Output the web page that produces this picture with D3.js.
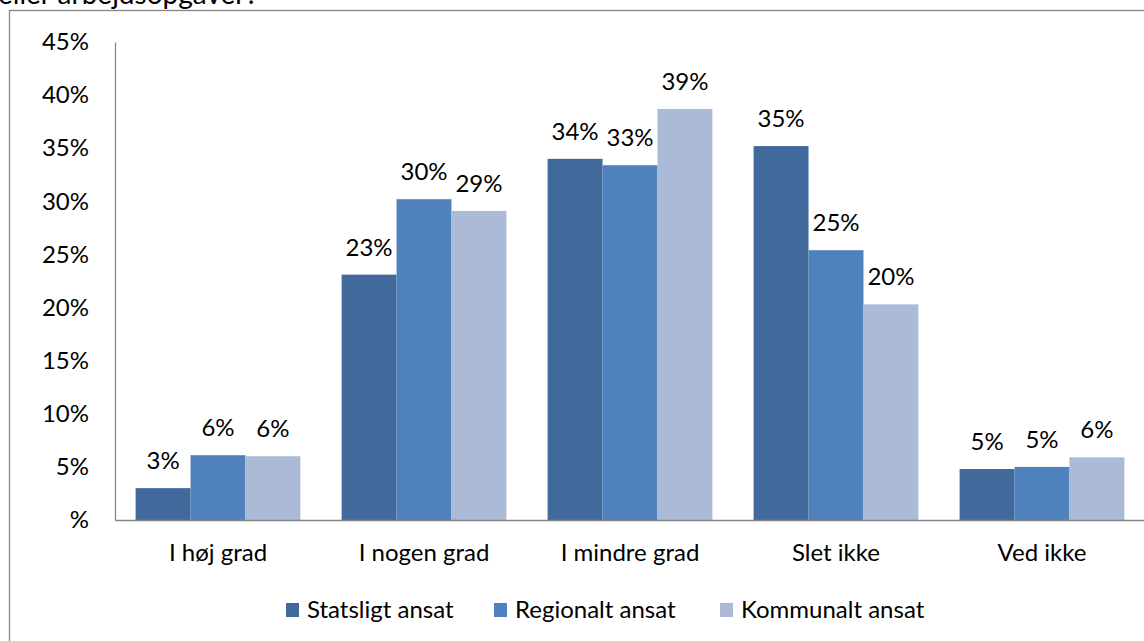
<!DOCTYPE html>
<html>
<head>
<meta charset="utf-8">
<script src="https://cdn.jsdelivr.net/npm/d3@7"></script>
<style>
  body { margin: 0; background: #fff; }
  text { font-family: Lato, "Open Sans", sans-serif; fill: #000; }
</style>
</head>
<body>
<div id="container"></div>
<script>
// data
const categories = ["I høj grad", "I nogen grad", "I mindre grad", "Slet ikke", "Ved ikke"];
const seriesNames = ["Statsligt ansat", "Regionalt ansat", "Kommunalt ansat"];
const statsligt = [3.0, 23.1, 34.0, 35.2, 4.8];
const regionalt = [6.1, 30.2, 33.4, 25.4, 5.0];
const kommunalt = [6.0, 29.1, 38.7, 20.3, 5.9];
const yTicks = [0, 5, 10, 15, 20, 25, 30, 35, 40, 45];
const colors = ["#41699b", "#4f81bd", "#aabad7"];

const series = [statsligt, regionalt, kommunalt];

// size
const w = 1144, h = 641;
const padL = 115, padR = 1145, padT = 42, padB = 520;
const fs = "24px";

const svg = d3.select("#container").append("svg")
  .attr("width", w).attr("height", h);

// cut-off title text and outer frame
svg.append("text").attr("x", -2).attr("y", 4)
  .style("font-size", "28px").text("eller arbejdsopgaver?");
svg.append("rect").attr("x", 9.5).attr("y", 10.5)
  .attr("width", w + 10).attr("height", h + 10)
  .style("fill", "none").style("stroke", "#868686").style("stroke-width", 1.3);

// scales
const x0 = d3.scaleBand().domain(categories).range([padL, padR]).paddingInner(0.2).paddingOuter(0.1);
const x1 = d3.scaleBand().domain(d3.range(seriesNames.length)).range([0, x0.bandwidth()]);
const y = d3.scaleLinear().domain([0, 45]).range([padB, padT]);

// y axis
svg.append("g").attr("transform", "translate(" + padL + ",0)")
  .call(d3.axisLeft(y).tickValues(yTicks).tickSize(0).tickPadding(26)
    .tickFormat(d => d === 0 ? "%" : d + "%"))
  .call(g => g.select(".domain").style("stroke", "#868686").style("stroke-width", 1.3))
  .call(g => g.selectAll("text").style("font-size", fs).style("font-family", "Lato, sans-serif"));

// bars
const groups = svg.selectAll(".grp").data(categories).enter().append("g")
  .attr("class", "grp")
  .attr("transform", d => "translate(" + x0(d) + ",0)");

groups.selectAll("rect").data((d, i) => series.map((s, j) => ({ j: j, v: s[i] })))
  .enter().append("rect")
  .attr("x", d => x1(d.j))
  .attr("y", d => y(d.v))
  .attr("width", x1.bandwidth())
  .attr("height", d => y(0) - y(d.v))
  .style("fill", d => colors[d.j]);

groups.selectAll(".lbl").data((d, i) => series.map((s, j) => ({ j: j, v: s[i] })))
  .enter().append("text")
  .attr("class", "lbl")
  .attr("x", d => x1(d.j) + x1.bandwidth() / 2)
  .attr("y", d => y(d.v) - 19)
  .attr("text-anchor", "middle")
  .style("font-size", fs)
  .text(d => Math.round(d.v) + "%");

// x axis
svg.append("g").attr("transform", "translate(0," + padB + ")")
  .call(d3.axisBottom(x0).tickSize(0).tickPadding(24))
  .call(g => g.select(".domain").style("stroke", "#868686").style("stroke-width", 1.3))
  .call(g => g.selectAll("text").style("font-size", fs).style("font-family", "Lato, sans-serif"));

// legend
const legX = [286, 494, 720];
const legend = svg.append("g");
seriesNames.forEach((n, i) => {
  legend.append("rect").attr("x", legX[i]).attr("y", 603).attr("width", 13).attr("height", 14)
    .style("fill", colors[i]);
  legend.append("text").attr("x", legX[i] + 21).attr("y", 618)
    .style("font-size", fs).text(n);
});
</script>
</body>
</html>
